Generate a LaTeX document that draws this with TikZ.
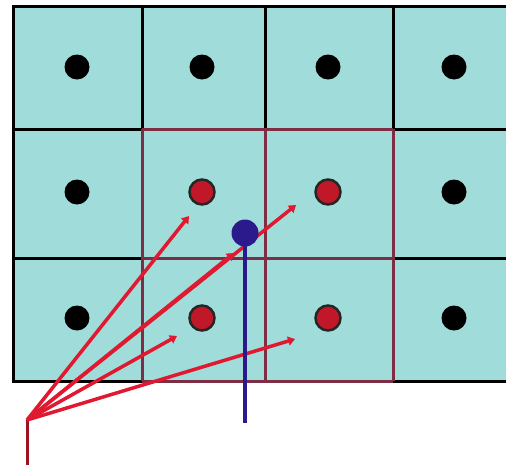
\documentclass[tikz,border=0pt]{standalone}
\usetikzlibrary{arrows.meta}
\definecolor{cellfill}{HTML}{A0DCDA}
\definecolor{gridred}{HTML}{7E2E44}
\definecolor{arrred}{HTML}{E01830}
\definecolor{dotred}{HTML}{C01828}
\definecolor{bluept}{HTML}{2A1A8C}
\tikzset{
  blackdot/.style={circle,fill=black,inner sep=0pt,minimum size=25pt},
  reddot/.style={circle,fill=dotred,draw=black!85,line width=2.5pt,inner sep=0pt,minimum size=25pt},
  gridline/.style={black,line width=3pt},
  redgrid/.style={gridred,line width=3pt},
  vec/.style={arrred,line width=3.5pt,-{Triangle[length=7pt,width=9pt]}},
}
\begin{document}
\begin{tikzpicture}[x=1pt,y=-1pt]
\useasboundingbox (0,0) rectangle (506,469);
\fill[white] (0,0) rectangle (506,469);
\fill[cellfill] (13,6) rectangle (506,381);
% black grid
\draw[gridline] (506,6) -- (13,6) -- (13,381) -- (506,381);
\foreach \x in {142,265,393} \draw[gridline] (\x,6) -- (\x,381);
\foreach \y in {129,258} \draw[gridline] (13,\y) -- (506,\y);
% red grid
\foreach \x in {142,265,393} \draw[redgrid] (\x,129) -- (\x,381);
\foreach \y in {129,258,381} \draw[redgrid] (142,\y) -- (393,\y);
% dots
\node[blackdot] (d11) at (77,67) {};
\node[blackdot] (d12) at (202,67) {};
\node[blackdot] (d13) at (328,67) {};
\node[blackdot] (d14) at (454,67) {};
\node[blackdot] (d21) at (77,192) {};
\node[reddot] (d22) at (202,192) {};
\node[reddot] (d23) at (328,192) {};
\node[blackdot] (d24) at (454,192) {};
\node[blackdot] (d31) at (77,318) {};
\node[reddot] (d32) at (202,318) {};
\node[reddot] (d33) at (328,318) {};
\node[blackdot] (d34) at (454,318) {};
% red vectors
\coordinate (o) at (27,420);
\coordinate (obot) at (27,465);
\coordinate (e1) at (189,216);
\coordinate (e2) at (296,205);
\coordinate (e3) at (234,253);
\coordinate (e4) at (177,336);
\coordinate (e5) at (295,339);
\draw[arrred!70!black,line width=3pt] (o) -- (obot);
\draw[vec] (o) -- (e1);
\draw[vec] (o) -- (e2);
\draw[vec] (o) -- (e3);
\draw[vec] (o) -- (e4);
\draw[vec] (o) -- (e5);
% blue point
\node[circle,fill=bluept,inner sep=0pt,minimum size=27pt] (p) at (245,233) {};
\coordinate (pbot) at (245,423);
\draw[bluept,line width=3.5pt] (p.center) -- (pbot);
\end{tikzpicture}
\end{document}
